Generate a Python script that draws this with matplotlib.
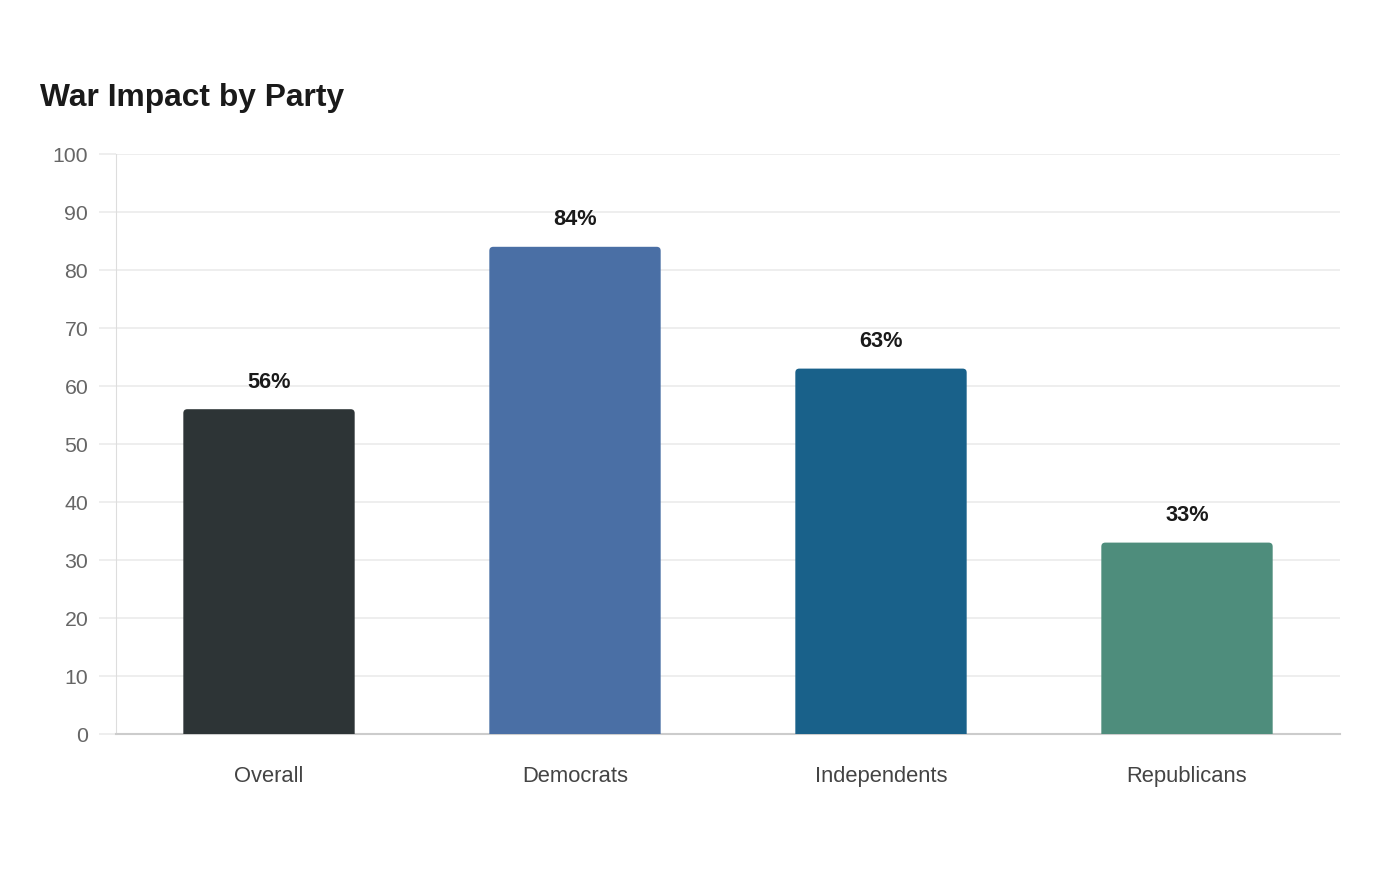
import matplotlib.pyplot as plt
from matplotlib.patches import FancyBboxPatch

plt.rcParams['font.family'] = ['Liberation Sans', 'DejaVu Sans']

# chart data
groups = ['Overall', 'Democrats', 'Independents', 'Republicans']
values = [56, 84, 63, 33]
bar_colors = ['#2d3436', '#4a6fa5', '#19618a', '#4e8d7c']
y_ticks = [0, 10, 20, 30, 40, 50, 60, 70, 80, 90, 100]

fig = plt.figure(figsize=(14, 8.8), dpi=100)
ax = fig.add_axes([116 / 1400, 146 / 880, 1224 / 1400, 580 / 880])

x = list(range(len(groups)))
bars = ax.bar(x, values, width=0.56, color=bar_colors, zorder=3)

# swap plain rectangles for ones with slightly rounded corners
px_x = 1224 / 4.0   # pixels per x unit
px_y = 580 / 100.0  # pixels per y unit
for b in bars:
    b.set_visible(False)
    r = 4 / px_x
    patch = FancyBboxPatch((b.get_x(), -3), b.get_width(), b.get_height() + 3,
                           boxstyle=f'round,pad=0,rounding_size={r}',
                           mutation_aspect=px_x / px_y,
                           facecolor=b.get_facecolor(), edgecolor='none', zorder=3)
    ax.add_patch(patch)

for xi, v in zip(x, values):
    ax.annotate(f'{v}%', (xi, v), xytext=(0, 12), textcoords='offset points',
                ha='center', va='bottom', fontsize=15.7, fontweight='bold',
                color='#1a1a1a')

ax.set_xlim(-0.5, len(groups) - 0.5)
ax.set_ylim(0, 100)
ax.set_yticks(y_ticks)
ax.set_xticks(x)
ax.set_xticklabels(groups)

ax.grid(axis='y', color='#ebebeb', linewidth=1.2, zorder=0)
ax.tick_params(axis='y', length=12, color='#ebebeb', width=1.2, pad=8,
               labelsize=15.3, labelcolor='#666666')
ax.tick_params(axis='x', length=0, pad=23, labelsize=15.8, labelcolor='#444444')

for s in ['top', 'right']:
    ax.spines[s].set_visible(False)
ax.spines['left'].set_color('#dddddd')
ax.spines['bottom'].set_color('#cccccc')
ax.spines['bottom'].set_linewidth(1.5)

fig.text(40 / 1400, 1 - 98 / 880, 'War Impact by Party', fontsize=22.9,
         fontweight='bold', color='#1a1a1a', va='center', ha='left')

fig.savefig('out.png', dpi=100, facecolor='white')
